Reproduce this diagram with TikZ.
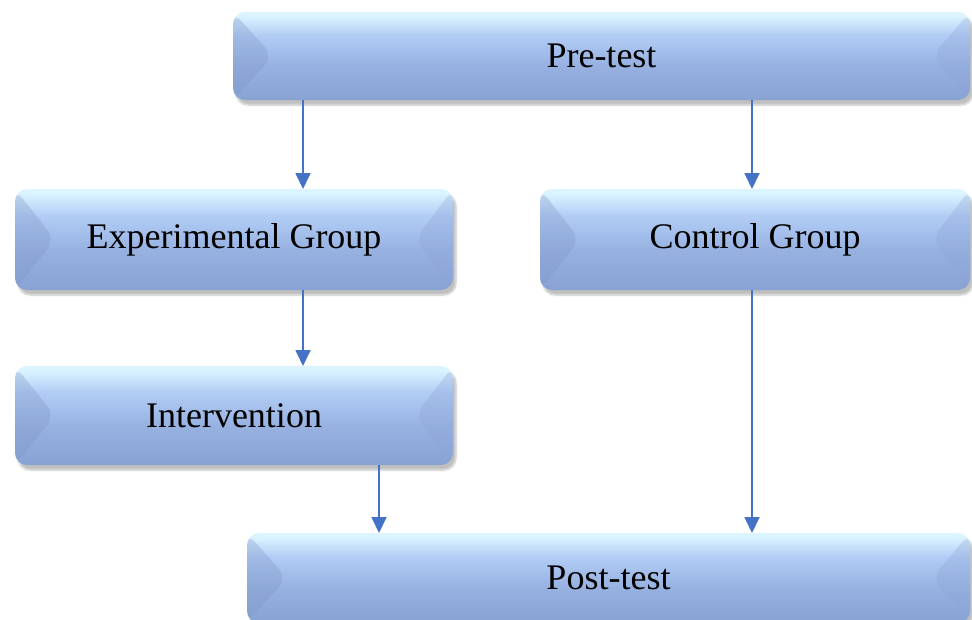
\documentclass[tikz,border=0pt]{standalone}
\usepackage{fontspec}
\setmainfont{Liberation Serif}
\usetikzlibrary{arrows.meta,shadows,shadows.blur}
\definecolor{btop}{HTML}{DCF4FF}
\definecolor{bup}{HTML}{B2CDF5}
\definecolor{bmid}{HTML}{97B2E1}
\definecolor{bbot}{HTML}{88A3D3}
\definecolor{bevl}{HTML}{7B92C4}
\definecolor{bevr}{HTML}{8CA3D6}
\definecolor{arrowblue}{HTML}{4472C4}
\pgfdeclareverticalshading{bevelshade}{100bp}{color(0bp)=(bbot); color(25bp)=(bbot); color(45bp)=(bmid); color(62bp)=(bup); color(73bp)=(btop); color(75bp)=(btop); color(100bp)=(btop)}
\tikzset{
  bevelbox/.style={rounded corners=12pt, shading=bevelshade, outer sep=0pt, inner sep=0pt,
    font=\fontsize{36}{42}\selectfont, text=black,
    blur shadow={shadow xshift=3pt, shadow yshift=-5pt, shadow blur steps=6, shadow opacity=25},
    path picture={
      \fill[bevl, opacity=0.3] (path picture bounding box.north west) -- ([xshift=40pt]path picture bounding box.west) -- (path picture bounding box.south west) -- cycle;
      \fill[bevr, opacity=0.3] (path picture bounding box.north east) -- ([xshift=-38pt]path picture bounding box.east) -- (path picture bounding box.south east) -- cycle;
    }},
  arr/.style={draw=arrowblue, line width=1.8pt, -{Triangle[width=15pt,length=16pt]}, shorten >=0pt}
}
\begin{document}
\begin{tikzpicture}[x=1pt,y=-1pt]
\useasboundingbox (0,0) rectangle (972,619);
\node[bevelbox, minimum width=737pt, minimum height=88pt] (pre) at (601.5,56) {Pre-test};
\node[bevelbox, minimum width=438pt, minimum height=101pt] (exp) at (234,239.5) {Experimental Group};
\node[bevelbox, minimum width=430pt, minimum height=101pt] (ctl) at (755,239.5) {Control Group};
\node[bevelbox, minimum width=438pt, minimum height=99pt] (int) at (234,415.5) {Intervention};
\node[bevelbox, minimum width=723pt, minimum height=90pt] (post) at (608.5,578) {Post-test};
\coordinate (xa) at (303,0);
\coordinate (xb) at (752,0);
\coordinate (xc) at (379,0);
\draw[arr] (pre.south -| xa) -- (exp.north -| xa);
\draw[arr] (pre.south -| xb) -- (ctl.north -| xb);
\draw[arr] (exp.south -| xa) -- (int.north -| xa);
\draw[arr] (int.south -| xc) -- (post.north -| xc);
\draw[arr] (ctl.south -| xb) -- (post.north -| xb);
\end{tikzpicture}
\end{document}
